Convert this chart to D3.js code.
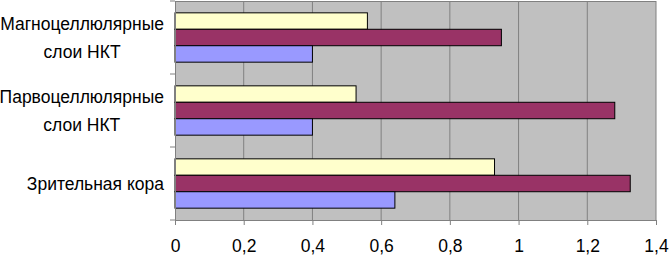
<!DOCTYPE html>
<html><head><meta charset="utf-8">
<script src="https://cdn.jsdelivr.net/npm/d3@7/dist/d3.min.js"></script>
<style>body{margin:0;background:#fff}svg{display:block}text{font-family:"Liberation Sans",Arial,sans-serif}</style>
</head><body>
<svg id="c" width="669" height="256"></svg>
<script>
const categories = ["Магноцеллюлярные\nслои НКТ", "Парвоцеллюлярные\nслои НКТ", "Зрительная кора"];
const seriesNames = ["yellow", "purple", "blue"];
const seriesColors = ["#FFFFCC", "#993366", "#9999FF"];
const yellowValues = [0.56, 0.527, 0.93];
const purpleValues = [0.95, 1.28, 1.325];
const blueValues = [0.40, 0.40, 0.64];
const xTicks = [0, 0.2, 0.4, 0.6, 0.8, 1, 1.2, 1.4];
const seriesValues = [yellowValues, purpleValues, blueValues];

(function(){
const svg = d3.select("#c");
const pl = 175, pr = 656, pt = 1, pb = 220;
const x = d3.scaleLinear().domain([0, 1.4]).range([pl, pr]);
const y = d3.scaleBand().domain(categories).range([pt, pb]).paddingInner(0).paddingOuter(0);
const inner = d3.scaleBand().domain(seriesNames).range([0, y.bandwidth()]).paddingOuter(0.72).paddingInner(0);

svg.append("rect").attr("x", pl).attr("y", pt).attr("width", pr - pl).attr("height", pb - pt).attr("fill", "#C0C0C0");

svg.append("g").selectAll("line").data(xTicks.slice(1)).join("line")
  .attr("x1", d => x(d)).attr("x2", d => x(d)).attr("y1", pt).attr("y2", pb)
  .attr("stroke", "#808080").attr("stroke-width", 1);
svg.append("line").attr("x1", pl).attr("x2", pr).attr("y1", pt + 0.5).attr("y2", pt + 0.5).attr("stroke", "#808080");

seriesValues.forEach((vals, si) => {
  svg.append("g").selectAll("rect").data(categories).join("rect")
    .attr("x", x(0))
    .attr("y", c => y(c) + inner(seriesNames[si]))
    .attr("width", (c, i) => x(vals[i]) - x(0))
    .attr("height", inner.bandwidth())
    .attr("fill", seriesColors[si]).attr("stroke", "#000").attr("stroke-width", 1);
});

const xAxis = d3.axisBottom(x).tickValues(xTicks).tickSize(5).tickPadding(8)
  .tickFormat(d => String(d).replace(".", ","));
const gx = svg.append("g").attr("transform", `translate(0,${pb})`).call(xAxis);
gx.select(".domain").attr("stroke", "#808080");
gx.selectAll(".tick line").attr("stroke", "#808080");
gx.selectAll("text").attr("font-size", 17.5).attr("fill", "#000")
  .attr("font-family", "Liberation Sans, Arial, sans-serif").attr("y", 32).attr("dy", null);

const yEdges = [pt, ...categories.map(c => y(c) + y.bandwidth())];
svg.append("line").attr("x1", pl + 0.5).attr("x2", pl + 0.5).attr("y1", pt).attr("y2", pb).attr("stroke", "#808080");
svg.append("g").selectAll("line").data(yEdges).join("line")
  .attr("x1", pl - 5).attr("x2", pl).attr("y1", d => d).attr("y2", d => d).attr("stroke", "#808080");

const labelRight = 164;
categories.forEach(c => {
  const lines = c.split("\n");
  const g = svg.append("g");
  const lh = 27.5;
  const cy = y(c) + y.bandwidth() / 2;
  const texts = lines.map((l, i) => g.append("text").text(l).attr("font-size", 17.5)
    .attr("y", cy + (i - (lines.length - 1) / 2) * lh + 6.3).attr("text-anchor", "middle"));
  const w = d3.max(texts, t => t.node().getComputedTextLength());
  texts.forEach(t => t.attr("x", labelRight - w / 2));
});
})();
</script>
</body></html>
